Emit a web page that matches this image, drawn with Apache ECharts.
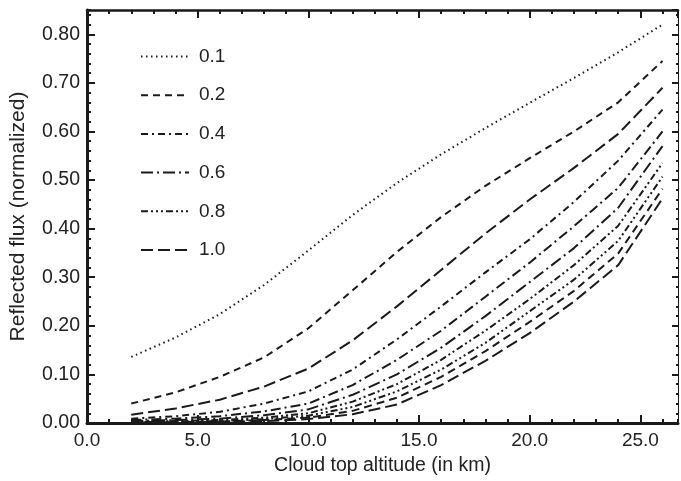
<!DOCTYPE html>
<html>
<head>
<meta charset="utf-8">
<script src="https://cdn.jsdelivr.net/npm/echarts@6/dist/echarts.min.js"></script>
<style>html,body{margin:0;padding:0;background:#fff}#c{width:681px;height:481px}</style>
</head>
<body>
<div id="c"></div>
<script>
// ---- data ----
var altitudeKm = [2, 4, 6, 8, 10, 12, 14, 16, 18, 20, 22, 24, 26];
var seriesNames = ['0.1', '0.2', '0.3', '0.4', '0.5', '0.6', '0.7', '0.8', '0.9', '1.0'];
var legendNames = ['0.1', '0.2', '0.4', '0.6', '0.8', '1.0'];
var flux01 = [0.136, 0.176, 0.224, 0.284, 0.355, 0.428, 0.494, 0.553, 0.607, 0.659, 0.710, 0.763, 0.820];
var flux02 = [0.040, 0.063, 0.095, 0.135, 0.195, 0.273, 0.352, 0.424, 0.488, 0.545, 0.600, 0.660, 0.745];
var flux03 = [0.017, 0.030, 0.048, 0.075, 0.112, 0.170, 0.240, 0.315, 0.390, 0.460, 0.525, 0.595, 0.690];
var flux04 = [0.009, 0.014, 0.023, 0.040, 0.065, 0.110, 0.172, 0.240, 0.310, 0.378, 0.455, 0.540, 0.645];
var flux05 = [0.006, 0.009, 0.014, 0.024, 0.040, 0.078, 0.130, 0.190, 0.260, 0.330, 0.405, 0.484, 0.600];
var flux06 = [0.004, 0.006, 0.009, 0.016, 0.028, 0.058, 0.100, 0.155, 0.220, 0.290, 0.360, 0.443, 0.570];
var flux07 = [0.003, 0.004, 0.006, 0.011, 0.020, 0.044, 0.080, 0.130, 0.190, 0.255, 0.325, 0.406, 0.535];
var flux08 = [0.002, 0.003, 0.004, 0.008, 0.015, 0.033, 0.065, 0.110, 0.165, 0.230, 0.295, 0.375, 0.507];
var flux09 = [0.002, 0.002, 0.003, 0.006, 0.011, 0.025, 0.052, 0.095, 0.148, 0.208, 0.272, 0.349, 0.482];
var flux10 = [0.001, 0.002, 0.002, 0.004, 0.008, 0.018, 0.038, 0.078, 0.128, 0.185, 0.250, 0.325, 0.462];
var xTickLabels = ['0.0', '5.0', '10.0', '15.0', '20.0', '25.0'];
var yTickLabels = ['0.00', '0.10', '0.20', '0.30', '0.40', '0.50', '0.60', '0.70', '0.80'];

// ---- styles ----
var allFlux = [flux01, flux02, flux03, flux04, flux05, flux06, flux07, flux08, flux09, flux10];
var dashes = [
  [1.5, 3.5],
  [7, 5],
  [12, 5],
  [7, 4, 2, 4],
  [10, 4, 2, 4],
  [12, 4, 2, 4],
  [7, 3, 2, 3, 2, 3],
  [7, 3, 2, 3, 2, 3, 2, 3],
  [8, 5],
  [12, 5]
];
var ink = '#1a1a1a';
var font = 'Liberation Sans, Arial, Helvetica, sans-serif';

var series = seriesNames.map(function (name, i) {
  return {
    name: name,
    type: 'line',
    xAxisIndex: 0,
    yAxisIndex: 0,
    symbol: 'none',
    silent: true,
    animation: false,
    lineStyle: { color: ink, width: 2, type: dashes[i], cap: 'butt' },
    itemStyle: { color: ink },
    data: altitudeKm.map(function (x, j) { return [x, allFlux[i][j]]; })
  };
});

var XMAX = 26.7, YMAX = 0.85;
function xAx(pos, interval, len, showLabel, showLine, lineW) {
  return {
    type: 'value', position: pos, min: 0, max: XMAX, interval: interval,
    splitLine: { show: false },
    axisLine: { show: showLine, onZero: false, lineStyle: { color: ink, width: lineW } },
    axisTick: { show: true, inside: true, length: len, lineStyle: { color: ink, width: 2 } },
    axisLabel: {
      show: showLabel, showMaxLabel: false, margin: 8,
      color: '#222', fontFamily: font, fontSize: 19,
      formatter: function (v) { var k = Math.round(v / 5); return xTickLabels[k] !== undefined && Math.abs(v - k * 5) < 1e-6 ? xTickLabels[k] : ''; }
    }
  };
}
function yAx(pos, interval, len, showLabel, showLine, lineW) {
  return {
    type: 'value', position: pos, min: 0, max: YMAX, interval: interval,
    splitLine: { show: false },
    axisLine: { show: showLine, onZero: false, lineStyle: { color: ink, width: lineW } },
    axisTick: { show: true, inside: true, length: len, lineStyle: { color: ink, width: 2 } },
    axisLabel: {
      show: showLabel, showMaxLabel: false, margin: 7,
      color: '#222', fontFamily: font, fontSize: 19.5,
      formatter: function (v) { var k = Math.round(v / 0.1); return yTickLabels[k] !== undefined && Math.abs(v - k * 0.1) < 1e-6 ? yTickLabels[k] : ''; }
    }
  };
}

var xAxes = [
  xAx('bottom', 5, 8, true, true, 3),
  xAx('bottom', 1, 4, false, false, 1),
  xAx('top', 5, 8, false, true, 2.5),
  xAx('top', 1, 4, false, false, 1)
];
xAxes[0].name = 'Cloud top altitude (in km)';
xAxes[0].nameLocation = 'middle';
xAxes[0].nameGap = 33;
xAxes[0].nameTextStyle = { color: '#222', fontFamily: font, fontSize: 19.5 };

var yAxes = [
  yAx('left', 0.1, 8, true, true, 3),
  yAx('left', 0.02, 4, false, false, 1),
  yAx('right', 0.1, 6, false, true, 1),
  yAx('right', 0.02, 2, false, false, 1)
];
yAxes[0].name = 'Reflected flux (normalized)';
yAxes[0].nameLocation = 'middle';
yAxes[0].nameGap = 58;
yAxes[0].nameTextStyle = { color: '#222', fontFamily: font, fontSize: 21 };

var chart = echarts.init(document.getElementById('c'), null, { renderer: 'canvas' });
chart.setOption({
  animation: false,
  backgroundColor: '#fff',
  grid: { left: 87, right: 3, top: 10, bottom: 58, containLabel: false },
  xAxis: xAxes,
  yAxis: yAxes,
  legend: {
    data: legendNames,
    orient: 'vertical',
    left: 135,
    top: 42,
    itemWidth: 48,
    itemHeight: 14,
    itemGap: 19.7,
    selectedMode: false,
    itemStyle: { opacity: 0, color: 'transparent', borderWidth: 0 },
    textStyle: { color: '#222', fontFamily: font, fontSize: 19, padding: [0, 0, 0, 5] }
  },
  series: series
});
</script>
</body>
</html>
